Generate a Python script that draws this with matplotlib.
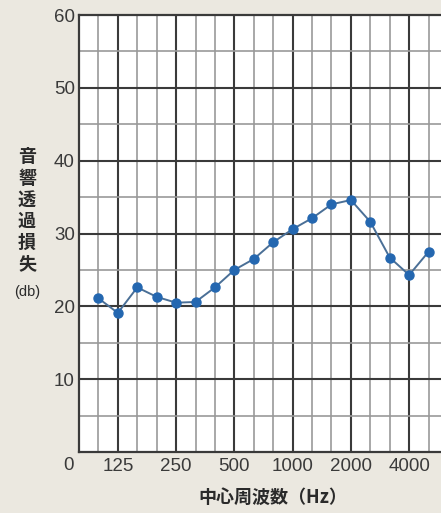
import matplotlib
matplotlib.use("Agg")
import matplotlib.pyplot as plt

plt.rcParams['font.family'] = ['Noto Sans CJK JP', 'DejaVu Sans']

bands = ["80", "100", "125", "160", "200", "250", "315", "400", "500", "630",
         "800", "1000", "1250", "1600", "2000", "2500", "3150", "4000", "5000"]
freqs = ["100", "125", "160", "200", "250", "315", "400", "500", "630",
         "800", "1000", "1250", "1600", "2000", "2500", "3150", "4000", "5000"]
tl_db = [21.1, 19.1, 22.6, 21.3, 20.5, 20.6, 22.6, 25.0, 26.5, 28.8,
         30.6, 32.1, 34.0, 34.6, 31.6, 26.7, 24.3, 27.5]
xtick_labels = ["125", "250", "500", "1000", "2000", "4000"]
ytick_values = [10, 20, 30, 40, 50, 60]

bg = "#ebe8e0"
fig = plt.figure(figsize=(4.41, 5.13), dpi=100, facecolor=bg)
ax = fig.add_axes([79/441, 1-452/513, 1-79/441, 437/513])
ax.set_facecolor("white")

xs = [bands.index(f) for f in freqs]
ax.set_xlim(0, 18.64)
ax.set_ylim(0, 60)

for i, b in enumerate(bands):
    if i == 0:
        continue
    bold = b in xtick_labels
    ax.axvline(i, color="#3a3a3a" if bold else "#999999",
               lw=1.5 if bold else 1.2, zorder=1)
for v in range(5, 60, 5):
    major = v % 10 == 0
    ax.axhline(v, color="#3a3a3a" if major else "#999999",
               lw=1.5 if major else 1.2, zorder=1)

ax.spines["right"].set_visible(False)
for s in ["left", "bottom", "top"]:
    ax.spines[s].set_color("#3a3a3a")
    ax.spines[s].set_linewidth(1.6)

ax.plot(xs, tl_db, color="#4a6f96", lw=1.4, zorder=3)
ax.plot(xs, tl_db, "o", color="#2467b0", ms=6.5, mec="#2467b0", zorder=4)

tick_font = dict(fontsize=13.5, color="#3a3a3a", family=["Liberation Sans"])
ax.set_xticks([bands.index(t) for t in xtick_labels])
ax.set_xticklabels(xtick_labels, **tick_font)
ax.set_yticks(ytick_values)
ax.set_yticklabels([str(v) for v in ytick_values], **tick_font)
ax.tick_params(axis="x", length=0, pad=4)
ax.tick_params(axis="y", length=0, pad=3)

fig.text(68/441, 1-465/513, "0", ha="center", va="center", **tick_font)

chars = ["音", "響", "透", "過", "損", "失"]
ys = [157, 179, 200, 221, 242, 264]
for c, y in zip(chars, ys):
    fig.text(27/441, 1-y/513, c, fontsize=13, fontweight="bold",
             color="#2a2a2a", ha="center", va="center")
fig.text(27/441, 1-292/513, "(db)", fontsize=10.5, color="#2a2a2a",
         ha="center", va="center", family=["Liberation Sans"])

fig.text(273/441, 1-497/513, "中心周波数（Hz）", fontsize=13, fontweight="bold",
         color="#2a2a2a", ha="center", va="center")

fig.savefig("out.png", dpi=100, facecolor=bg)
